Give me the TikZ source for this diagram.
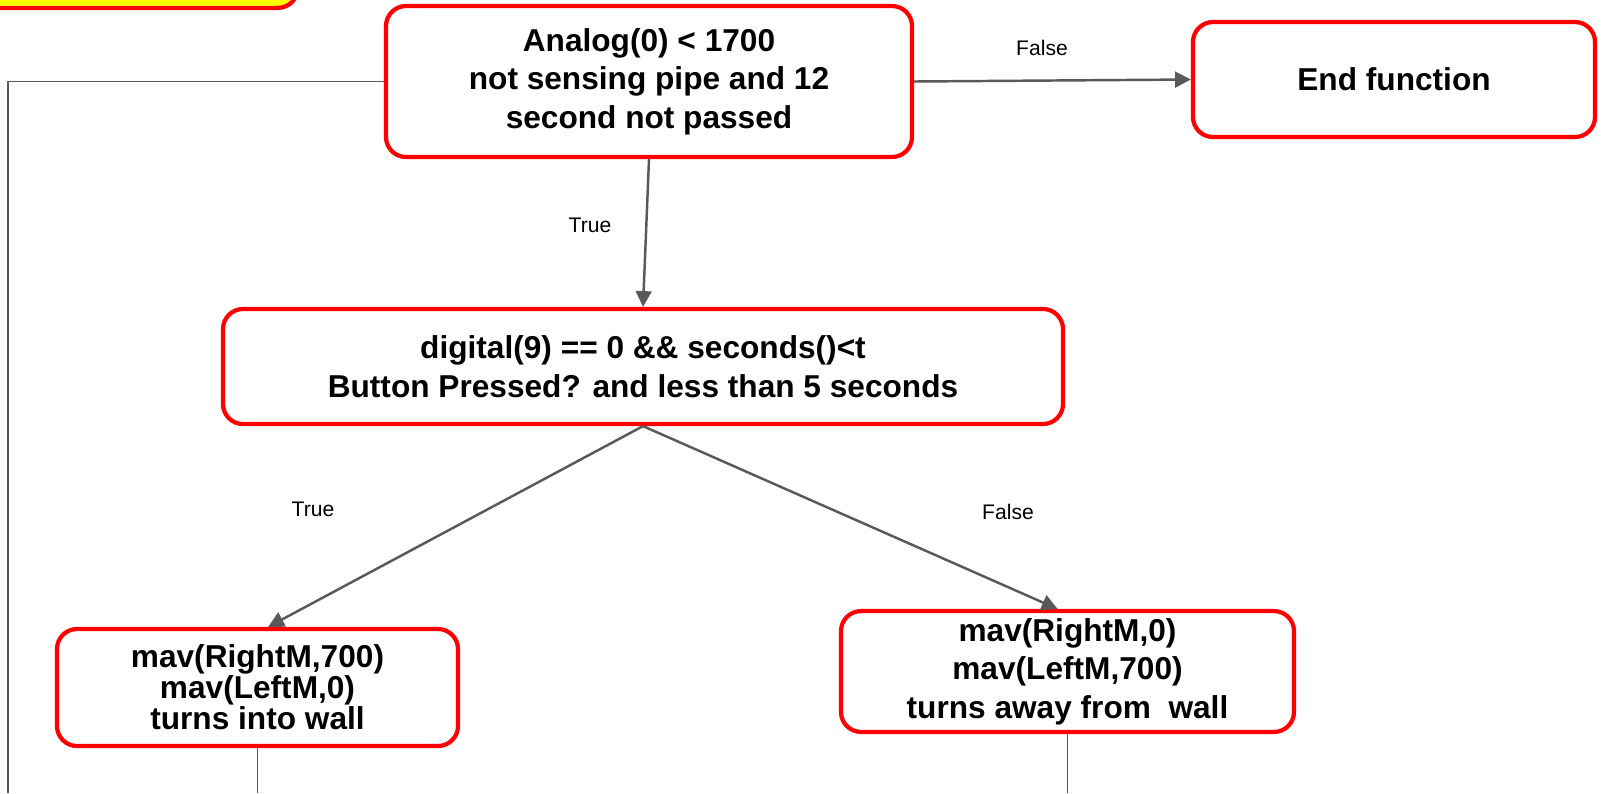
\documentclass[tikz,border=0pt]{standalone}
\usepackage{fontspec}
\setmainfont{Liberation Sans}
\usetikzlibrary{arrows.meta, positioning, shapes}
\definecolor{boxred}{RGB}{255, 0, 0}
\definecolor{linegray}{RGB}{89, 89, 89}
\definecolor{startyellow}{RGB}{255, 255, 0}

\tikzset{
  flowbox/.style={draw=boxred, line width=1.2pt, rounded corners=0.2cm, align=center, inner sep=2pt,
    font=\fontsize{9}{11}\selectfont\bfseries},
  flowarrow/.style={-{Triangle[length=4.5pt, width=4.5pt]}, draw=linegray, line width=0.7pt},
  flowline/.style={draw=linegray, line width=0.5pt},
  flowlabel/.style={font=\fontsize{6}{7}\selectfont},
}

\begin{document}
\begin{tikzpicture}
        \clip (0,0) rectangle (16.02,-7.93);

        % Start box, mostly off the page
        \node[flowbox, fill=startyellow, minimum width=4cm, minimum height=1cm, anchor=south east] (start) at (3.00,-0.10) {};

        % Decisions
        \node[flowbox, minimum width=5.26cm, minimum height=1.51cm] (cond1) at (6.49,-0.815)
            {Analog(0) < 1700\\ not sensing pipe and 12\\ second not passed};
        \node[flowbox, minimum width=4.02cm, minimum height=1.15cm] (endf) at (13.94,-0.795) {End function};
        \node[flowbox, minimum width=8.40cm, minimum height=1.15cm] (cond2) at (6.43,-3.665)
            {digital(9) == 0 \&\& seconds()<t\\ Button Pressed? and less than 5 seconds};

        % Motor actions
        \node[flowbox, minimum width=4.01cm, minimum height=1.17cm, font=\fontsize{9}{8.8}\selectfont\bfseries] (intowall) at (2.575,-6.875)
            {mav(RightM,700)\\ mav(LeftM,0)\\ turns into wall};
        \node[flowbox, minimum width=4.53cm, minimum height=1.17cm] (awaywall) at (10.675,-6.715)
            {mav(RightM,0)\\ mav(LeftM,700)\\ turns away from\ \ wall};

        % Loose ends at the bottom
        \coordinate (loopend) at (0.08,-7.93);
        \coordinate (intoend) at (intowall.south |- 0,-7.93);
        \coordinate (awayend) at (awaywall.south |- 0,-7.93);

        % Connectors
        \draw[flowarrow] (cond1.east) -- (endf.west);
        \draw[flowarrow] (cond1.south) -- (cond2.north);
        \draw[flowarrow] (cond2.south) -- (intowall.80);
        \draw[flowarrow] (cond2.south) -- (awaywall.99);
        \draw[flowline] (cond1.west) -| (loopend);
        \draw[flowline] (intowall.south) -- (intoend);
        \draw[flowline] (awaywall.south) -- (awayend);

        % Labels
        \node[flowlabel] (lblf1) at (10.42,-0.48) {False};
        \node[flowlabel] (lblt1) at (5.90,-2.25) {True};
        \node[flowlabel] (lblt2) at (3.13,-5.09) {True};
        \node[flowlabel] (lblf2) at (10.08,-5.12) {False};
\end{tikzpicture}
\end{document}
